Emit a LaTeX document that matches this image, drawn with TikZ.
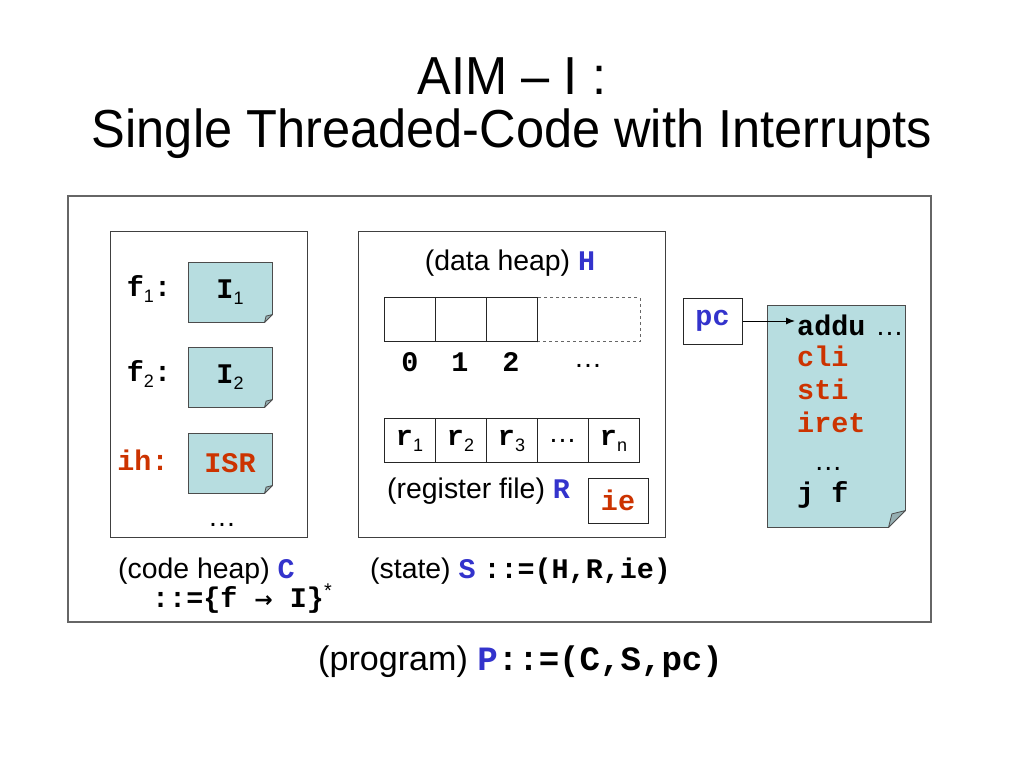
\documentclass[tikz,border=0pt]{standalone}
\usepackage{fontspec}
\setmainfont{Liberation Sans}
\setmonofont{Liberation Mono}
\newfontfamily\arrowfont{DejaVu Sans}
\usepackage{tikz}
\usetikzlibrary{arrows.meta,positioning}
\definecolor{notefill}{RGB}{183,221,224}
\definecolor{notefold}{RGB}{150,175,178}
\definecolor{kwblue}{RGB}{51,51,204}
\definecolor{kwred}{RGB}{204,51,0}
\newcommand{\bodyfont}{\fontsize{28.4}{34}\selectfont}
\newcommand{\titlefont}{\fontsize{53.5}{60}\selectfont}
\newcommand{\tb}[1]{\texttt{\textbf{#1}}}
\newcommand{\subidx}[1]{\raisebox{-0.4ex}{\fontsize{18}{18}\selectfont\rmfamily\mdseries #1}}
% folded corner on the lower right of a note node
\newcommand{\foldcorner}[2]{%
  \fill[white] ([xshift=1.5pt,yshift=-1.5pt]#1.south east) -- ([xshift=-#2pt-1pt,yshift=-1.5pt]#1.south east)
     -- ([xshift=1.5pt,yshift=#2pt+1pt]#1.south east) -- cycle;
  \draw[black!70, line width=0.8, fill=notefold, line join=round] ([xshift=-#2pt]#1.south east) -- ([yshift=#2pt]#1.south east)
     -- ([xshift=-0.8*#2pt,yshift=0.8*#2pt]#1.south east) -- cycle;}
\tikzset{frame/.style={draw=black!60, line width=1.2}}
\tikzset{panel/.style={draw=black!75, line width=1, inner sep=0}}
\tikzset{note/.style={draw=black!70, line width=1, fill=notefill, minimum width=84, minimum height=60, inner sep=0, font=\bodyfont\ttfamily\bfseries}}
\tikzset{cell/.style={draw=black!85, line width=1, minimum width=51, minimum height=44, inner sep=0, font=\bodyfont\ttfamily\bfseries}}
\tikzset{mono/.style={font=\bodyfont\ttfamily\bfseries, inner sep=2}}
\tikzset{txt/.style={font=\bodyfont, inner sep=0}}

\begin{document}
\begin{tikzpicture}[x=1pt, y=-1pt]
        \useasboundingbox (0,0) rectangle (1024,768);
        \fill[white] (0,0) rectangle (1024,768);
        % title
        \node [font=\titlefont, anchor=base, xscale=0.945] (title1) at (512,94)  {AIM -- I :};
        \node [font=\titlefont, anchor=base, xscale=0.945] (title2) at (512,147) {Single Threaded-Code with Interrupts};
        %
        \node [frame, minimum width=863, minimum height=426] (outer)   at (499.5,409) {};
        \node [panel, minimum width=197, minimum height=306] (codebox) at (208.5,384) {};
        \node [panel, minimum width=307, minimum height=306] (statebox) at (511.5,384) {};
        % code heap
        \node [note]                       (I1)   at (230,292) {I\subidx{1}};
        \node [note]                       (I2)   at (230,377) {I\subidx{2}};
        \node [note, text=kwred]           (ISR)  at (230,463) {ISR};
        \foldcorner{I1}{8}
        \foldcorner{I2}{8}
        \foldcorner{ISR}{8}
        \node [mono]                       (f1)   at (149,289) {f\subidx{1}:};
        \node [mono]                       (f2)   at (149,374) {f\subidx{2}:};
        \node [mono, text=kwred]           (ih)   at (143,460) {ih:};
        \node [txt]                        (cdots) at (222,525) {…};
        \node [txt, anchor=base west]      (clbl) at (118,578) {(code heap) \textcolor{kwblue}{\tb{C}}};
        \node [txt, anchor=base west]      (cdef) at (152,607) {\tb{::=\{f {\arrowfont\bfseries\fontsize{22}{22}\selectfont →} I\}}\textsuperscript{*}};
        % state
        \node [txt, anchor=base]           (hlbl) at (510,270) {(data heap) \textcolor{kwblue}{\tb{H}}};
        \node [cell, dashed, draw=black!60, minimum width=103] (hmore) at (588.5,319.5) {};
        \foreach \i/\x in {0/409.5,1/460.5,2/511.5}
            \node [cell] (h\i) at (\x,319.5) {};
        \foreach \i/\x in {0/410,1/460,2/511}
            \node [mono] (idx\i) at (\x,362) {\i};
        \node [txt]                        (hdots) at (588,366) {…};
        \foreach \i/\x in {1/409.5,2/460.5,3/511.5}
            \node [cell] (r\i) at (\x,440.5) {r\subidx{\i}};
        \node [cell, font=\bodyfont]       (rdots) at (562.5,440.5) {…};
        \node [cell]                       (rn)   at (613.5,440.5) {r\subidx{n}};
        \node [txt, anchor=base west]      (rlbl) at (387,498) {(register file) \textcolor{kwblue}{\tb{R}}};
        \node [cell, minimum width=60, minimum height=45, text=kwred] (ie) at (618,500.5) {ie};
        \node [txt, anchor=base west]      (slbl) at (370,578) {(state) \textcolor{kwblue}{\tb{S}} \tb{::=(H,R,ie)}};
        % program counter and code
        \node [cell, minimum width=59, minimum height=46, text=kwblue] (pc) at (712.5,321) {pc};
        \node [note, minimum width=138, minimum height=222] (listing) at (836,416) {};
        \foldcorner{listing}{17}
        \node [mono, anchor=base west]     (addu) at (795,335) {addu\hspace{10pt}\textmd{\rmfamily …}};
        \node [mono, anchor=base west, text=kwred] (cli)  at (795,366) {cli};
        \node [mono, anchor=base west, text=kwred] (sti)  at (795,399) {sti};
        \node [mono, anchor=base west, text=kwred] (iret) at (795,432) {iret};
        \node [txt, anchor=base west]      (ldots) at (814,470) {…};
        \node [mono, anchor=base west]     (jf)   at (795,502) {j f};
        \draw [line width=1, -{Latex[length=9,width=7]}] (pc.east) -- (pc.east -| addu.west);
        % program
        \node [font=\fontsize{34.1}{40}\selectfont, anchor=base west, inner sep=0] (plbl) at (318,670)
              {(program) \textcolor{kwblue}{\tb{P}}\tb{::=(C,S,pc)}};
\end{tikzpicture}
\end{document}
